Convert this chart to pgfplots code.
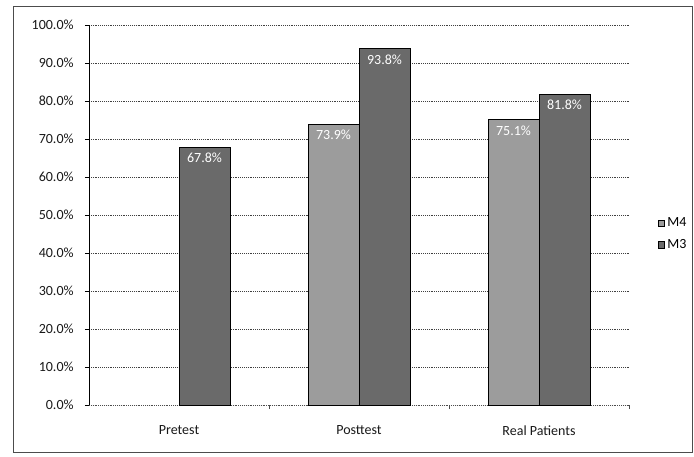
\documentclass[border=0pt]{standalone}
\usepackage{fontspec}
\setmainfont{Carlito}
\usepackage{pgfplots}
\pgfplotsset{compat=1.18}
\definecolor{mfour}{HTML}{9C9C9C}
\definecolor{mthree}{HTML}{6A6A6A}
\begin{document}
\begin{tikzpicture}[x=1pt,y=1pt]
\begin{axis}[
  name=ax,
  scale only axis,
  width=405pt, height=285pt,
  xmin=-0.5, xmax=2.5,
  ymin=0, ymax=100,
  ybar=0pt,
  bar width=38.25pt,
  axis lines*=left,
  x axis line style={black!70, densely dotted, -},
  y axis line style={black, -},
  ymajorgrids,
  grid style={black!75, densely dotted, line width=0.5pt},
  ytick={0,10,...,100},
  yticklabel={\pgfmathprintnumber[fixed,fixed zerofill,precision=1]{\tick}\%},
  xtick={0,1,2},
  xticklabels={Pretest, Posttest, Real Patients},
  minor xtick={0.5,1.5,2.5},
  tick align=outside,
  major x tick style={draw=none},
  minor x tick style={black!70},
  minor tick length=3pt,
  major tick length=3pt,
  y tick style={black},
  tick label style={font=\fontsize{10.5}{12}\selectfont, text=black!90},
  yticklabel style={xshift=-5pt},
  xticklabel style={yshift=-9pt},
  /pgf/number format/assume math mode=true,
  nodes near coords,
  nodes near coords style={font=\fontsize{10.5}{12}\selectfont, text=white, anchor=north, yshift=-1pt},
  point meta=explicit symbolic,
  legend style={at={(1.045,0.45)}, anchor=west, draw=none, fill=none,
    font=\fontsize{10.5}{12}\selectfont, row sep=4pt,
    /tikz/every even column/.append style={column sep=2pt}},
  legend image code/.code={\draw[#1, draw=black, line width=0.4pt] (0pt,-2.5pt) rectangle (5pt,2.5pt);},
  clip=false,
]
\addplot[fill=mfour, draw=black, line width=0.4pt] coordinates {(1,73.9) [73.9\%] (2,75.1) [75.1\%]};
\addplot[fill=mthree, draw=black, line width=0.4pt] coordinates {(0,67.8) [67.8\%] (1,93.8) [93.8\%] (2,81.8) [81.8\%]};
\legend{M4, M3}
\end{axis}
\draw[black!70, line width=0.4pt] ([xshift=-57pt, yshift=-35.25pt]ax.south west) rectangle ([xshift=47.25pt, yshift=14.25pt]ax.north east);
\path[use as bounding box] ([xshift=-66.75pt, yshift=-38.25pt]ax.south west) rectangle ([xshift=48.75pt, yshift=18.75pt]ax.north east);
\end{tikzpicture}
\end{document}
